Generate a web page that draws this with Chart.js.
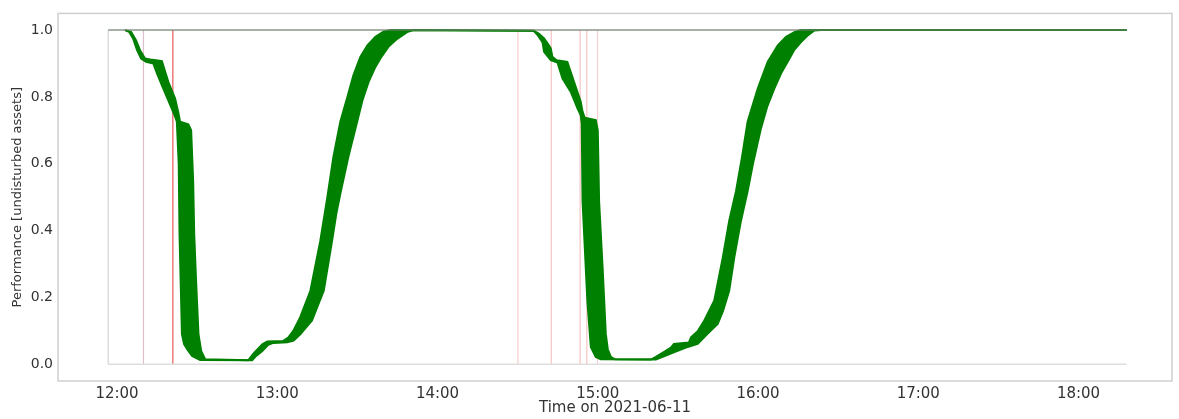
<!DOCTYPE html>
<html>
<head>
<meta charset="utf-8">
<script src="https://cdn.jsdelivr.net/npm/chart.js@4.4.1/dist/chart.umd.min.js"></script>
<style>
  html, body { margin: 0; padding: 0; background: #fff; }
  #wrap { width: 1179px; height: 419px; }
</style>
</head>
<body>
<div id="wrap"><canvas id="myChart" width="1179" height="419"></canvas></div>
<script>
// time is in minutes since midnight (720 = 12:00)
const tickTimes = [720, 780, 840, 900, 960, 1020, 1080];
const yTicks = [0, 0.2, 0.4, 0.6, 0.8, 1.0];

// upper edge of the performance band
const upperTimes = [723.0, 725.25, 727.1, 728.6, 730.5, 732.4, 734.6, 736.8, 739.2, 741.75, 743.0, 743.6,
  746.7, 747.75, 748.5, 748.9, 749.6, 750.5, 751.5, 753.0, 769.1, 769.9, 771.4, 774.4, 776.25, 782.25,
  784.1, 786.0, 788.6, 792.4, 796.1, 798.75, 801.0, 803.6, 806.25, 808.5, 811.1, 813.75, 816.75, 819.75, 822.4,
  876.0, 877.9, 879.9, 881.25, 882.4, 883.0, 884.6, 888.6, 891.1, 893.6, 894.3, 895.1, 899.25, 900.0,
  900.5, 901.8, 903.0, 903.75, 904.9, 906.4, 919.9, 921.75, 924.4, 927.4, 928.5, 934.1, 934.9, 937.5,
  939.9, 943.6, 946.8, 949.2, 951.75, 954.0, 956.1, 959.9, 963.6, 967.4, 970.5, 973.6, 976.1, 1098];
const upperValues = [1.0, 0.995, 0.97, 0.94, 0.915, 0.912, 0.91, 0.907, 0.845, 0.795, 0.751, 0.726,
  0.718, 0.70, 0.55, 0.39, 0.25, 0.09, 0.04, 0.015, 0.012, 0.02, 0.035, 0.06, 0.068, 0.07,
  0.08, 0.10, 0.141, 0.22, 0.369, 0.50, 0.62, 0.726, 0.80, 0.865, 0.92, 0.954, 0.98, 0.995, 1.0,
  0.998, 0.99, 0.975, 0.96, 0.945, 0.92, 0.91, 0.905, 0.845, 0.786, 0.756, 0.738, 0.731, 0.70,
  0.488, 0.29, 0.091, 0.045, 0.022, 0.015, 0.014, 0.022, 0.035, 0.05, 0.061, 0.065, 0.081, 0.10,
  0.131, 0.19, 0.319, 0.429, 0.518, 0.62, 0.726, 0.825, 0.905, 0.954, 0.98, 0.994, 1.0, 1.0];

// lower edge of the performance band
const lowerTimes = [723.0, 724.5, 726.0, 727.5, 729.0, 730.9, 733.6, 735.0, 736.8, 739.9, 741.75, 742.4,
  743.1, 743.4, 744.3, 745.1, 746.25, 748.1, 751.1, 770.6, 772.1, 774.4, 776.6, 778.5, 783.75, 786.1,
  788.6, 793.0, 795.4, 797.4, 800.5, 802.1, 803.6, 806.6, 809.9, 811.9, 814.2, 816.75, 818.6, 821.6,
  824.9, 828.6, 831.0,
  876.0, 877.5, 879.3, 879.9, 882.4, 884.9, 886.8, 889.9, 892.4, 893.6, 894.0, 894.3, 896.1, 897.4,
  899.25, 901.1, 921.75, 923.6, 926.6, 929.9, 933.0, 937.4, 940.9, 944.9, 946.9, 949.2, 951.1, 953.6,
  956.1, 958.1, 961.1, 963.4, 966.1, 968.6, 971.1, 973.5, 976.1, 978.75, 981.1, 983.6, 1098];
const lowerValues = [1.0, 0.995, 0.975, 0.94, 0.915, 0.905, 0.9, 0.87, 0.835, 0.776, 0.741, 0.726,
  0.60, 0.39, 0.09, 0.06, 0.045, 0.025, 0.013, 0.012, 0.025, 0.04, 0.058, 0.064, 0.066, 0.071,
  0.09, 0.131, 0.18, 0.22, 0.369, 0.45, 0.51, 0.62, 0.726, 0.79, 0.845, 0.89, 0.915, 0.95,
  0.974, 0.994, 1.0,
  0.998, 0.985, 0.964, 0.935, 0.91, 0.903, 0.855, 0.815, 0.766, 0.746, 0.72, 0.488, 0.19, 0.052,
  0.022, 0.015, 0.014, 0.02, 0.03, 0.04, 0.05, 0.061, 0.09, 0.121, 0.16, 0.22, 0.319, 0.429,
  0.518, 0.6, 0.706, 0.77, 0.825, 0.87, 0.905, 0.94, 0.964, 0.985, 0.999, 1.0, 1.0];

// disturbance events (vertical markers)
const eventTimes = [716.7, 729.9, 740.9, 870.1, 882.6, 893.4, 895.9, 899.9];
const eventColors = ['rgba(205,200,200,0.8)', 'rgba(205,165,185,0.7)', 'rgba(225,60,60,0.85)',
  'rgba(235,140,140,0.45)', 'rgba(235,140,140,0.5)', 'rgba(235,140,140,0.55)',
  'rgba(235,140,140,0.5)', 'rgba(235,140,140,0.4)'];

// nominal level span
const nominalStart = 716.7;
const nominalEnd = 1098;

function pts(xs, ys) {
  return xs.map((x, i) => ({ x: x, y: ys[i] }));
}

function hhmm(v) {
  const h = Math.floor(v / 60);
  const m = Math.round(v - h * 60);
  return String(h).padStart(2, '0') + ':' + String(m).padStart(2, '0');
}

const datasets = [
  {
    label: 'upper',
    data: pts(upperTimes, upperValues),
    borderColor: 'rgb(0,128,0)',
    borderWidth: 2,
    backgroundColor: 'rgb(0,128,0)',
    fill: '+1',
    order: 0
  },
  {
    label: 'lower',
    data: pts(lowerTimes, lowerValues),
    borderColor: 'rgb(0,128,0)',
    borderWidth: 2,
    fill: false,
    order: 0
  },
  {
    label: 'nominal',
    data: [{ x: nominalStart, y: 1 }, { x: nominalEnd, y: 1 }],
    borderColor: 'rgba(110,125,110,0.8)',
    borderWidth: 1.5,
    fill: false,
    order: -1
  },
  {
    label: 'zero',
    data: [{ x: nominalStart, y: 0 }, { x: nominalEnd, y: 0 }],
    borderColor: '#dedede',
    borderWidth: 1.5,
    fill: false,
    order: 2
  }
];

eventTimes.forEach((t, i) => {
  datasets.push({
    label: 'event' + i,
    data: [{ x: t, y: 0 }, { x: t, y: 1 }],
    borderColor: eventColors[i],
    borderWidth: 1.2,
    fill: false,
    order: 3
  });
});

const framePlugin = {
  id: 'frame',
  afterDraw(chart) {
    const a = chart.chartArea;
    const ctx = chart.ctx;
    ctx.save();
    ctx.strokeStyle = '#cfcfcf';
    ctx.lineWidth = 1.5;
    ctx.strokeRect(a.left, a.top, a.right - a.left, a.bottom - a.top);
    ctx.restore();
  }
};

const textColor = '#333333';

new Chart(document.getElementById('myChart'), {
  type: 'line',
  data: { datasets: datasets },
  options: {
    responsive: false,
    animation: false,
    elements: { point: { radius: 0 }, line: { tension: 0 } },
    layout: { padding: { top: 11, right: 7, left: 0, bottom: 0 } },
    plugins: {
      legend: { display: false },
      tooltip: { enabled: false },
      filler: { propagate: false }
    },
    scales: {
      x: {
        type: 'linear',
        min: 697.9,
        max: 1115,
        grid: { display: false, drawTicks: false },
        border: { display: false },
        afterBuildTicks(scale) {
          scale.ticks = tickTimes.map(v => ({ value: v }));
        },
        afterFit(scale) { scale.height = 38; },
        ticks: {
          font: { family: 'DejaVu Sans', size: 15 },
          color: textColor,
          padding: 4,
          maxRotation: 0,
          autoSkip: false,
          callback: v => hhmm(v)
        },
        title: {
          display: true,
          text: 'Time on 2021-06-11',
          font: { family: 'DejaVu Sans', size: 15 },
          color: textColor,
          padding: { top: 0, bottom: 2 }
        }
      },
      y: {
        min: -0.05,
        max: 1.05,
        grid: { display: false, drawTicks: false },
        border: { display: false },
        afterBuildTicks(scale) {
          scale.ticks = yTicks.map(v => ({ value: v }));
        },
        afterFit(scale) { scale.width = 58; },
        ticks: {
          font: { family: 'DejaVu Sans', size: 14 },
          color: textColor,
          padding: 5,
          callback: v => Number(v).toFixed(1)
        },
        title: {
          display: true,
          text: 'Performance [undisturbed assets]',
          font: { family: 'DejaVu Sans', size: 13 },
          color: textColor,
          padding: { top: 10, bottom: 0 }
        }
      }
    }
  },
  plugins: [framePlugin]
});
</script>
</body>
</html>
